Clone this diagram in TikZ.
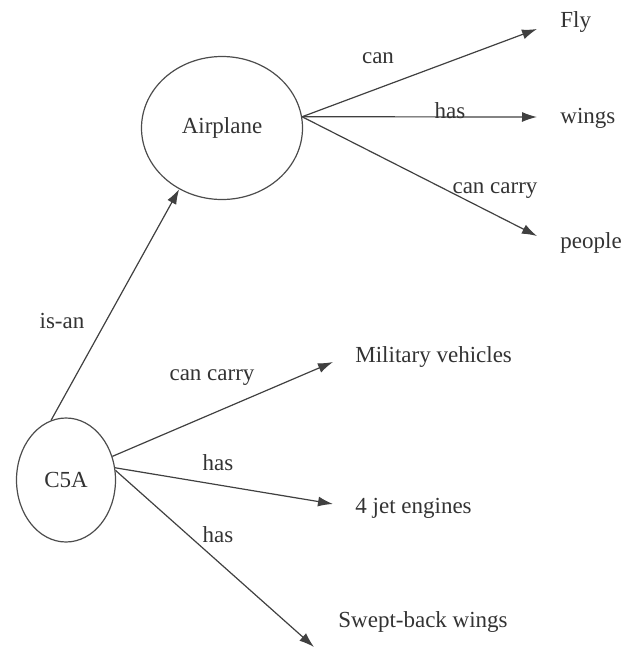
\documentclass[tikz,border=0pt]{standalone}
\usepackage{fontspec}
\setmainfont{Liberation Serif}
\usetikzlibrary{shapes,arrows.meta}
\tikzstyle{concept} = [ellipse, draw=black!70, line width=0.6pt, inner sep=0pt]
\tikzstyle{fact} = [anchor=base west, inner sep=0pt, text=black!80]
\tikzstyle{rel} = [anchor=base, inner sep=0pt, text=black!80]
\tikzstyle{line} = [draw=black!75, line width=0.6pt, -{Latex[length=7.5pt,width=5pt]}]

\begin{document}
\begin{tikzpicture}[x=0.5pt, y=-0.5pt, font=\fontsize{11.5}{14}\selectfont]
  \useasboundingbox (0,0) rectangle (628,649);
  % Place nodes
  \node [concept, minimum width=80.5pt, minimum height=71.5pt, text=black!80] (airplane) at (222,128) {Airplane};
  \node [concept, minimum width=49.5pt, minimum height=62pt, text=black!80] (c5a) at (66,480) {C5A};
  \node [fact] (fly) at (560,27) {Fly};
  \node [fact] (wings) at (560,123) {wings};
  \node [fact] (people) at (560,248) {people};
  \node [fact] (military) at (355,362) {Military vehicles};
  \node [fact] (engines) at (355,513) {4 jet engines};
  \node [fact] (swept) at (338,627) {Swept-back wings};
  % Arrow tips
  \coordinate (flytip) at (537,29);
  \coordinate (wingstip) at (537,117);
  \coordinate (peopletip) at (537,236);
  \coordinate (militarytip) at (333,362);
  \coordinate (enginestip) at (333,504);
  \coordinate (swepttip) at (314,647);
  % Draw edges
  \path [line] (c5a.104) -- (airplane.235);
  \path [line] (airplane.8) -- (flytip);
  \path [line] (airplane.8) -- (wingstip);
  \path [line] (airplane.8) -- (peopletip);
  \path [line] (c5a.27) -- (militarytip);
  \path [line] (c5a.14) -- (enginestip);
  \path [line] (c5a.11) -- (swepttip);
  % Edge labels
  \node [rel] (isan) at (62,328) {is-an};
  \node [rel] (can) at (378,63) {can};
  \node [rel] (has) at (450,118) {has};
  \node [rel] (cancarry) at (495,193) {can carry};
  \node [rel] (carries) at (212,380) {can carry};
  \node [rel] (hasengines) at (218,470) {has};
  \node [rel] (hassweep) at (218,542) {has};
\end{tikzpicture}
\end{document}
